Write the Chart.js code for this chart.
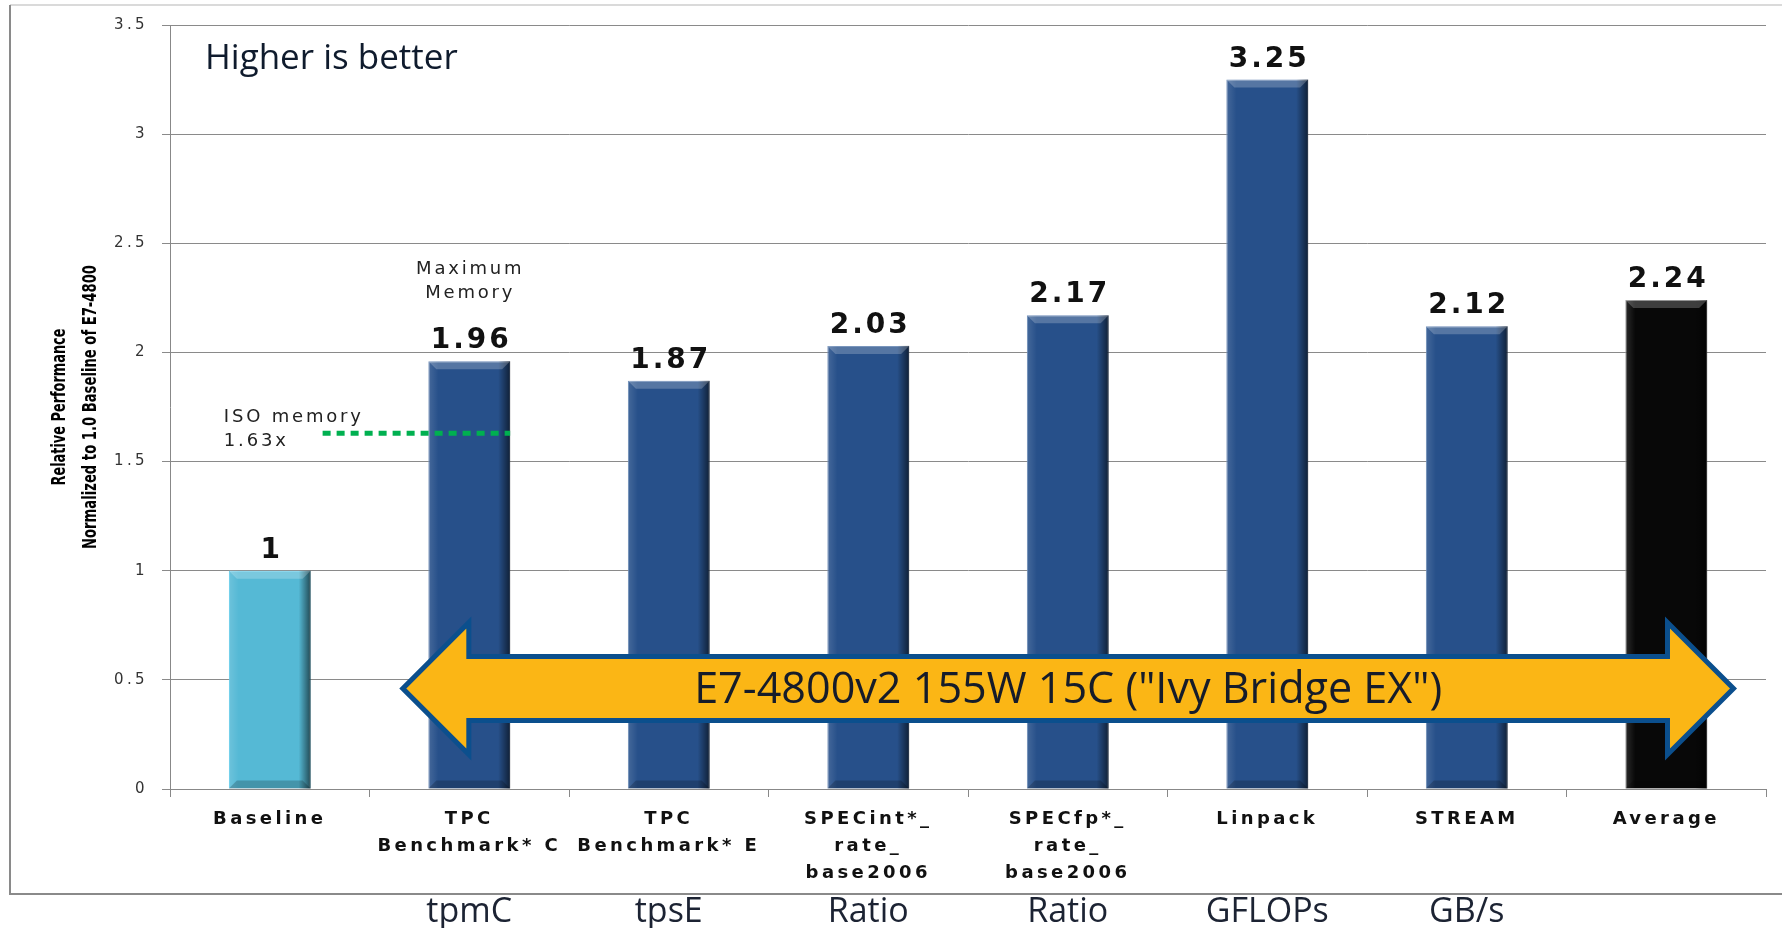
<!DOCTYPE html>
<html>
<head>
<meta charset="utf-8">
<title>E7-4800v2 relative performance</title>
<script src="https://cdn.jsdelivr.net/npm/chart.js"></script>
<style>
  html, body { margin: 0; padding: 0; background: #fff; }
  canvas { display: block; }
</style>
</head>
<body>
<canvas id="perf-canvas" width="1782" height="928"></canvas>
<script>
(function() {
    'use strict';

    // chart data
    var categories = [
        ['Baseline'],
        ['TPC', 'Benchmark* C'],
        ['TPC', 'Benchmark* E'],
        ['SPECint*_', 'rate_', 'base2006'],
        ['SPECfp*_', 'rate_', 'base2006'],
        ['Linpack'],
        ['STREAM'],
        ['Average']
    ];
    var values = [1, 1.96, 1.87, 2.03, 2.17, 3.25, 2.12, 2.24];
    var units = ['', 'tpmC', 'tpsE', 'Ratio', 'Ratio', 'GFLOPs', 'GB/s', ''];
    var isoMemory = 1.63;
    var yMin = 0, yMax = 3.5, yStep = 0.5;

    var barColors = ['#55b9d5', '#27508a', '#27508a', '#27508a', '#27508a', '#27508a', '#27508a', '#080808'];
    var barBorders = ['#47c3e8', '#5478aa', '#5478aa', '#5478aa', '#5478aa', '#5478aa', '#5478aa', '#777777'];

    var spaced = '"DejaVu Sans", Verdana, sans-serif';
    var clear = '"Open Sans", "Noto Sans", sans-serif';

    function poly(ctx, pts) {
        ctx.beginPath();
        ctx.moveTo(pts[0][0], pts[0][1]);
        for (var i = 1; i < pts.length; i++) ctx.lineTo(pts[i][0], pts[i][1]);
        ctx.closePath();
        ctx.fill();
    }

    var slidePlugin = {
        id: 'slide',
        beforeDraw: function(chart) {
            var ctx = chart.ctx;
            ctx.save();
            ctx.fillStyle = '#fff';
            ctx.fillRect(0, 0, chart.width, chart.height);
            // frame around the chart
            ctx.strokeStyle = '#dadada';
            ctx.lineWidth = 2;
            ctx.beginPath();
            ctx.moveTo(10, 5); ctx.lineTo(chart.width, 5);
            ctx.stroke();
            ctx.strokeStyle = '#8a8a8a';
            ctx.beginPath();
            ctx.moveTo(10, 5); ctx.lineTo(10, 894); ctx.lineTo(chart.width, 894);
            ctx.stroke();
            ctx.restore();
            // the slide text is stretched, tick labels included
            ctx.letterSpacing = '3.4px';
        },
        afterDatasetsDraw: function(chart) {
            var ctx = chart.ctx;
            var x = chart.scales.x, y = chart.scales.y;
            var area = chart.chartArea;
            var bars = chart.getDatasetMeta(0).data;

            ctx.save();
            // bevel look on the bars
            bars.forEach(function(bar) {
                var p = bar.getProps(['x', 'y', 'base', 'width'], true);
                var l = p.x - p.width / 2, r = p.x + p.width / 2, t = p.y, b = p.base, d = 8;
                var g = ctx.createLinearGradient(l, 0, l + 10, 0);
                g.addColorStop(0, 'rgba(255,255,255,0.14)');
                g.addColorStop(1, 'rgba(255,255,255,0)');
                ctx.fillStyle = g;
                ctx.fillRect(l, t, 10, b - t);
                g = ctx.createLinearGradient(r - 12, 0, r, 0);
                g.addColorStop(0, 'rgba(0,0,0,0)');
                g.addColorStop(1, 'rgba(0,0,0,0.6)');
                ctx.fillStyle = g;
                ctx.fillRect(r - 12, t, 12, b - t);
                ctx.fillStyle = 'rgba(255,255,255,0.22)';
                poly(ctx, [[l, t], [r, t], [r - d, t + d], [l + d, t + d]]);
                ctx.fillStyle = 'rgba(0,0,0,0.2)';
                poly(ctx, [[l, b], [r, b], [r - d, b - d], [l + d, b - d]]);
            });

            // value labels
            ctx.letterSpacing = '3px';
            ctx.fillStyle = '#111';
            ctx.font = 'bold 28px ' + spaced;
            ctx.textAlign = 'center';
            ctx.textBaseline = 'alphabetic';
            bars.forEach(function(bar, i) {
                ctx.fillText(String(values[i]), bar.x + 2, bar.y - 13);
            });

            // memory notes
            var memBar = bars[1];
            ctx.letterSpacing = '2.8px';
            ctx.font = '18px ' + spaced;
            ctx.fillStyle = '#222';
            ctx.fillText('Maximum', memBar.x + 1, memBar.y - 87);
            ctx.fillText('Memory', memBar.x + 1, memBar.y - 63);
            var isoY = y.getPixelForValue(isoMemory);
            ctx.textAlign = 'left';
            ctx.fillText('ISO memory', x.getPixelForValue(-0.23), isoY - 11);
            ctx.fillText(isoMemory + 'x', x.getPixelForValue(-0.23), isoY + 13);
            ctx.strokeStyle = '#00b050';
            ctx.lineWidth = 5;
            ctx.setLineDash([8, 6]);
            ctx.beginPath();
            ctx.moveTo(x.getPixelForValue(0.265), isoY);
            ctx.lineTo(memBar.x + memBar.width / 2, isoY);
            ctx.stroke();
            ctx.setLineDash([]);

            ctx.letterSpacing = '0px';
            ctx.font = '35px ' + clear;
            ctx.fillStyle = '#0f1b2d';
            ctx.fillText('Higher is better', area.left + 35, area.top + 44);

            // double arrow across the new parts
            var cy = y.getPixelForValue(0.46);
            var tipL = x.getPixelForValue(0.667), backL = tipL + 66;
            var tipR = x.getPixelForValue(7.337), backR = tipR - 66;
            var sh = 32, hh = 66;
            ctx.beginPath();
            ctx.moveTo(tipL, cy);
            ctx.lineTo(backL, cy - hh);
            ctx.lineTo(backL, cy - sh);
            ctx.lineTo(backR, cy - sh);
            ctx.lineTo(backR, cy - hh);
            ctx.lineTo(tipR, cy);
            ctx.lineTo(backR, cy + hh);
            ctx.lineTo(backR, cy + sh);
            ctx.lineTo(backL, cy + sh);
            ctx.lineTo(backL, cy + hh);
            ctx.closePath();
            ctx.fillStyle = '#fbb615';
            ctx.fill();
            ctx.strokeStyle = '#0b4f8d';
            ctx.lineWidth = 5;
            ctx.lineJoin = 'miter';
            ctx.stroke();
            ctx.fillStyle = '#161c2a';
            ctx.font = '44px ' + clear;
            ctx.textAlign = 'center';
            ctx.textBaseline = 'middle';
            ctx.fillText('E7-4800v2 155W 15C ("Ivy Bridge EX")', (tipL + tipR) / 2, cy + 2, 748);

            // units under the categories
            ctx.font = '34px ' + clear;
            ctx.fillStyle = '#1c2333';
            units.forEach(function(u, i) {
                if (u) ctx.fillText(u, x.getPixelForValue(i), 912);
            });

            // y axis title, condensed bold
            var titles = [['Relative Performance', 60, 157], ['Normalized to 1.0 Baseline of E7-4800', 91, 284]];
            ctx.font = 'bold 19px "Liberation Sans Narrow", "DejaVu Sans Condensed", "Liberation Sans", sans-serif';
            ctx.fillStyle = '#000';
            titles.forEach(function(tl) {
                var w = ctx.measureText(tl[0]).width;
                ctx.save();
                ctx.translate(tl[1], (area.top + area.bottom) / 2);
                ctx.rotate(-Math.PI / 2);
                ctx.scale(tl[2] / w, 1);
                ctx.fillText(tl[0], 0, 0);
                ctx.restore();
            });
            ctx.restore();
        }
    };

    var ctx = document.getElementById('perf-canvas').getContext('2d');
    var chartObj = new Chart(ctx, {
        type: 'bar',
        data: {
            labels: categories,
            datasets: [{
                data: values,
                backgroundColor: barColors,
                borderColor: barBorders,
                borderWidth: 1,
                categoryPercentage: 1,
                barPercentage: 0.41
            }]
        },
        options: {
            responsive: false,
            animation: false,
            devicePixelRatio: 1,
            layout: { padding: { top: 25, right: 16, left: 0, bottom: 0 } },
            plugins: { legend: { display: false }, tooltip: { enabled: false } },
            scales: {
                x: {
                    offset: true,
                    grid: { offset: true, drawOnChartArea: false, drawTicks: true, tickLength: 8, color: '#888' },
                    border: { color: '#888', width: 1 },
                    ticks: {
                        autoSkip: false, maxRotation: 0, minRotation: 0, padding: 9,
                        color: '#111',
                        font: { family: spaced, size: 18, weight: 'bold', lineHeight: 1.5 }
                    },
                    afterFit: function(scale) { scale.height = 139; }
                },
                y: {
                    min: yMin, max: yMax,
                    grid: { color: '#8a8a8a', tickLength: 8 },
                    border: { color: '#888', width: 1 },
                    ticks: {
                        stepSize: yStep, padding: 14, color: '#333',
                        font: { family: spaced, size: 15 },
                        callback: function(v) { return String(v); }
                    },
                    afterFit: function(scale) { scale.width = 170; }
                }
            }
        },
        plugins: [slidePlugin]
    });
})();
</script>
</body>
</html>
